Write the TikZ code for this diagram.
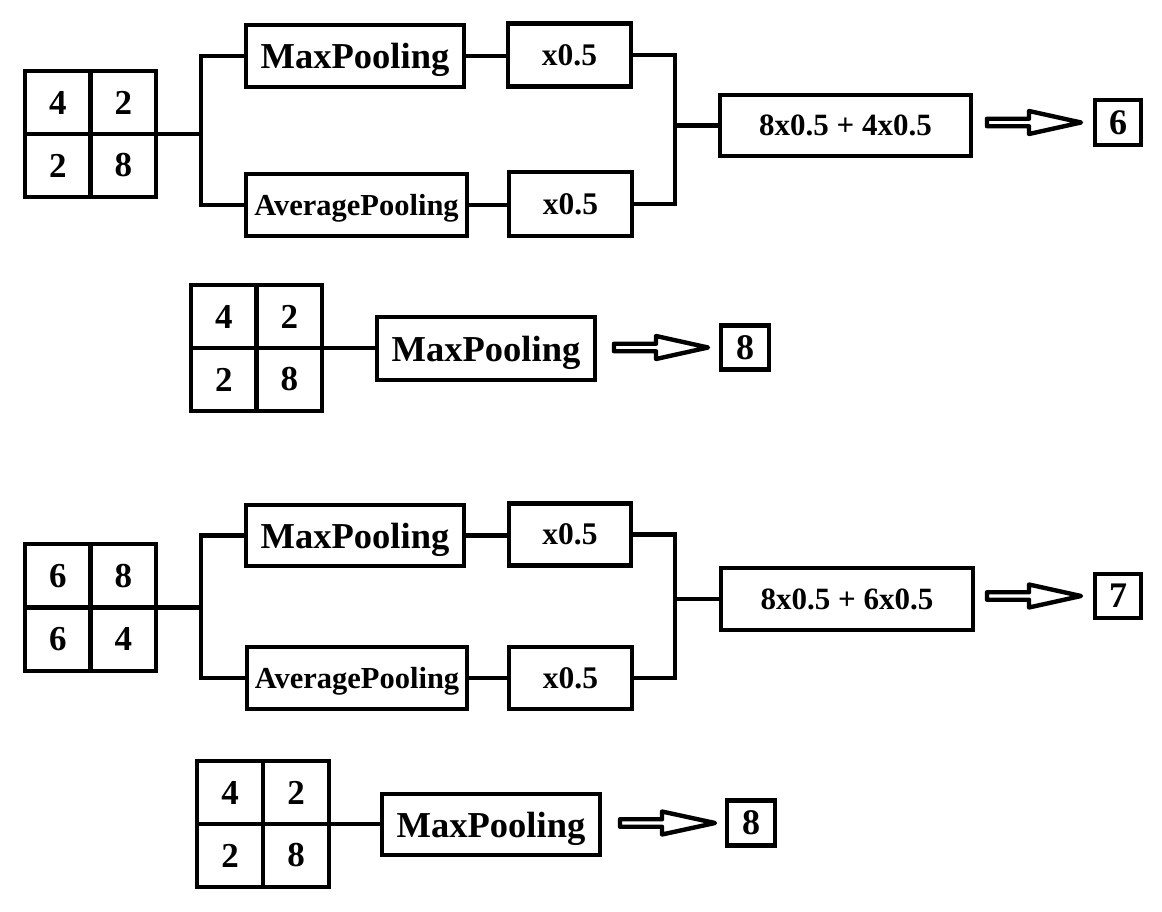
\documentclass[tikz,border=0pt]{standalone}
\usepackage{fontspec}
\setmainfont{Liberation Serif}
\usetikzlibrary{calc}
\tikzset{
  box/.style={draw=black, line width=4.6pt, inner sep=0pt, outer sep=0pt, fill=white, font=\bfseries\fontsize{36.5}{36.5}\selectfont},
  poolbox/.style={box, text depth=0pt},
  cell/.style={box, font=\bfseries\fontsize{35}{35}\selectfont},
  avgbox/.style={box, text depth=0pt, font=\bfseries\fontsize{30.5}{30.5}\selectfont},
  mulbox/.style={box, font=\bfseries\fontsize{31.5}{31.5}\selectfont},
  sumbox/.style={box, font=\bfseries\fontsize{31}{31}\selectfont},
  resbox/.style={box, font=\bfseries\fontsize{36}{36}\selectfont},
  conn/.style={draw=black, line width=4.4pt},
  blockarr/.style={draw=black, line width=4.4pt, line join=round, fill=white}
}
\newcommand\blockarrow[2]{%
  \draw[blockarr] let \p1=(#1), \p2=(#2) in
    (\x1,\y1+3.75pt) -- (\x1+42pt,\y1+3.75pt) -- (\x1+42pt,\y1+11.5pt) --
    (\x2,\y1) -- (\x1+42pt,\y1-11.5pt) -- (\x1+42pt,\y1-3.75pt) --
    (\x1,\y1-3.75pt) -- cycle;}
\begin{document}
\begin{tikzpicture}[x=1pt,y=-1pt]
\useasboundingbox[fill=white] (0,0) rectangle (1162,912);

% ---------- section 1 ----------
\node[cell, minimum width=65.5pt, minimum height=63pt] (g1a) at (57.75,102.5) {4};
\node[cell, minimum width=65.5pt, minimum height=63pt] (g1b) at (123.25,102.5) {2};
\node[cell, minimum width=65.5pt, minimum height=63pt] (g1c) at (57.75,165.5) {2};
\node[cell, minimum width=65.5pt, minimum height=63pt] (g1d) at (123.25,165.5) {8};
\node[poolbox, minimum width=218pt, minimum height=62pt] (mp1) at (355,56) {MaxPooling};
\node[avgbox, minimum width=221pt, minimum height=62pt] (ap1) at (356.5,205) {AveragePooling};
\node[mulbox, minimum width=123pt, minimum height=63pt] (h1a) at (569.5,55) {x0.5};
\node[mulbox, minimum width=123pt, minimum height=64pt] (h1b) at (570.5,204) {x0.5};
\node[sumbox, minimum width=251pt, minimum height=61pt] (big1) at (845.5,125.5) {8x0.5 + 4x0.5};
\node[resbox, minimum width=46pt, minimum height=45pt] (r1) at (1118,122.5) {6};
\coordinate (lb1) at (201,0);
\coordinate (rb1) at (675,0);
\draw[conn] (g1b.south east) -- (g1b.south east -| lb1) |- (mp1.west);
\draw[conn] (g1b.south east -| lb1) |- (ap1.west);
\draw[conn] (mp1.east) -- (mp1.east -| h1a.west);
\draw[conn] (ap1.east) -- (ap1.east -| h1b.west);
\draw[conn] (h1a.east) -| (rb1 |- big1.west) -- (big1.west);
\draw[conn] (h1b.east) -| (rb1 |- big1.west);
\coordinate (a1s) at ($(big1.east |- r1.west)+(16,0)$);
\coordinate (a1e) at ($(r1.west)+(-14,0)$);
\blockarrow{a1s}{a1e}

% ---------- section 2 ----------
\node[cell, minimum width=65.5pt, minimum height=63pt] (g2a) at (223.75,316.5) {4};
\node[cell, minimum width=65.5pt, minimum height=63pt] (g2b) at (289.25,316.5) {2};
\node[cell, minimum width=65.5pt, minimum height=63pt] (g2c) at (223.75,379.5) {2};
\node[cell, minimum width=65.5pt, minimum height=63pt] (g2d) at (289.25,379.5) {8};
\node[poolbox, minimum width=218pt, minimum height=63pt] (mp2) at (486,348.5) {MaxPooling};
\node[resbox, minimum width=48pt, minimum height=44pt] (r2) at (745,347.5) {8};
\draw[conn] (g2b.south east) -- (g2b.south east -| mp2.west);
\coordinate (a2s) at ($(mp2.east |- r2.west)+(19,0)$);
\coordinate (a2e) at ($(r2.west)+(-13,0)$);
\blockarrow{a2s}{a2e}

% ---------- section 3 ----------
\node[cell, minimum width=65.5pt, minimum height=63.5pt] (g3a) at (57.75,575.75) {6};
\node[cell, minimum width=65.5pt, minimum height=63.5pt] (g3b) at (123.25,575.75) {8};
\node[cell, minimum width=65.5pt, minimum height=63.5pt] (g3c) at (57.75,639.25) {6};
\node[cell, minimum width=65.5pt, minimum height=63.5pt] (g3d) at (123.25,639.25) {4};
\node[poolbox, minimum width=218pt, minimum height=61pt] (mp3) at (355,535.5) {MaxPooling};
\node[avgbox, minimum width=220pt, minimum height=62pt] (ap3) at (357,678) {AveragePooling};
\node[mulbox, minimum width=122pt, minimum height=62pt] (h3a) at (570,534.5) {x0.5};
\node[mulbox, minimum width=123pt, minimum height=62pt] (h3b) at (570.5,678) {x0.5};
\node[sumbox, minimum width=252pt, minimum height=62pt] (big3) at (847,599) {8x0.5 + 6x0.5};
\node[resbox, minimum width=46pt, minimum height=44pt] (r3) at (1118,596) {7};
\coordinate (lb3) at (201,0);
\coordinate (rb3) at (675,0);
\draw[conn] (g3b.south east) -- (g3b.south east -| lb3) |- (mp3.west);
\draw[conn] (g3b.south east -| lb3) |- (ap3.west);
\draw[conn] (mp3.east) -- (mp3.east -| h3a.west);
\draw[conn] (ap3.east) -- (ap3.east -| h3b.west);
\draw[conn] (h3a.east) -| (rb3 |- big3.west) -- (big3.west);
\draw[conn] (h3b.east) -| (rb3 |- big3.west);
\coordinate (a3s) at ($(big3.east |- r3.west)+(14,0)$);
\coordinate (a3e) at ($(r3.west)+(-14,0)$);
\blockarrow{a3s}{a3e}

% ---------- section 4 ----------
\node[cell, minimum width=66pt, minimum height=63pt] (g4a) at (230,792.5) {4};
\node[cell, minimum width=66pt, minimum height=63pt] (g4b) at (296,792.5) {2};
\node[cell, minimum width=66pt, minimum height=63pt] (g4c) at (230,855.5) {2};
\node[cell, minimum width=66pt, minimum height=63pt] (g4d) at (296,855.5) {8};
\node[poolbox, minimum width=218pt, minimum height=61pt] (mp4) at (491,824.5) {MaxPooling};
\node[resbox, minimum width=48pt, minimum height=45pt] (r4) at (751,823) {8};
\draw[conn] (g4b.south east) -- (g4b.south east -| mp4.west);
\coordinate (a4s) at ($(mp4.east |- r4.west)+(20,0)$);
\coordinate (a4e) at ($(r4.west)+(-12,0)$);
\blockarrow{a4s}{a4e}
\end{tikzpicture}
\end{document}
